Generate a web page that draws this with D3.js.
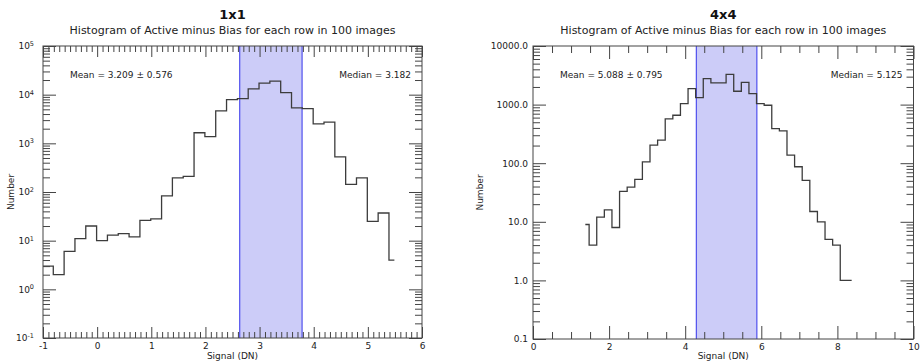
<!DOCTYPE html>
<html>
<head>
<meta charset="utf-8">
<script src="https://cdn.jsdelivr.net/npm/d3@7"></script>
<style>
	body { margin: 0; background: #fff; }
	svg { display: block; font-family: "DejaVu Sans", sans-serif; }
	.axis path { display: none; }
	.axis line { stroke: #444; }
	.axis text { font-size: 9px; fill: #222; font-family: "DejaVu Sans", sans-serif; }
</style>
</head>
<body>
<svg width="921" height="364"></svg>
<script>
// 1x1 panel: bin centres start at -1.11, 0.2 DN wide (first bin sits off the axis)
const binStart1 = -1.11
const binWidth1 = 0.2
const counts1 = [3, 3, 2, 6, 11, 20, 10, 13, 14, 12, 26, 28, 83, 195, 210, 1650, 1370, 4640,
	7900, 8300, 13200, 17300, 19000, 11000, 5350, 5180, 2520, 2720, 526, 143, 195, 25, 37, 4]
const stats1 = { mean: 3.209, sigma: 0.576, median: 3.182 }

// 4x4 panel
const binStart4 = 1.375
const binWidth4 = 0.2
const counts4 = [9, 4, 12, 16, 8, 33, 39, 53, 105, 203, 247, 570, 658, 1040, 1870, 1315, 2775,
	2340, 2340, 3290, 1690, 2400, 1540, 1040, 975, 390, 356, 137, 87, 51, 15, 10, 5, 4, 1, 1]
const stats4 = { mean: 5.088, sigma: 0.795, median: 5.125 }

const xTicks1 = [-1, 0, 1, 2, 3, 4, 5, 6]
const yTicks1 = [0.1, 1, 10, 100, 1000, 10000, 100000]
const xTicks4 = [0, 2, 4, 6, 8, 10]
const yTicks4 = [0.1, 1, 10, 100, 1000, 10000]

const svg = d3.select("svg")

function logMinors(lo, hi) {
	const out = []
	for (let e = lo; e < hi; e++)
		for (let k = 2; k <= 9; k++) out.push(k * Math.pow(10, e))
	return out
}
function linMinors(lo, hi, step, majors) {
	const out = []
	for (let v = lo; v <= hi + 1e-9; v += step) {
		const r = Math.round(v * 100) / 100
		if (!majors.includes(r)) out.push(r)
	}
	return out
}

function drawPanel(p, id) {
	const g = svg.append("g")
	const x = d3.scaleLinear(p.xDomain, [p.left, p.right])
	const y = d3.scaleLog(p.yDomain, [p.bottom, p.top])

	svg.append("defs").append("clipPath").attr("id", "clip" + id)
		.append("rect")
		.attr("x", p.left).attr("y", p.top)
		.attr("width", p.right - p.left).attr("height", p.bottom - p.top)

	// mean +/- sigma band
	const x0 = x(p.stats.mean - p.stats.sigma), x1 = x(p.stats.mean + p.stats.sigma)
	g.append("rect")
		.attr("x", x0).attr("y", p.top)
		.attr("width", x1 - x0).attr("height", p.bottom - p.top)
		.attr("fill", "#ccccf8")
	g.selectAll(".edge").data([x0, x1]).enter().append("line")
		.attr("class", "edge")
		.attr("x1", d => d).attr("x2", d => d)
		.attr("y1", p.top).attr("y2", p.bottom)
		.attr("stroke", "#5050ee").attr("stroke-width", 1.2)

	// histogram, IDL psym=10 style steps
	const pts = p.counts.map((c, i) => [p.binStart + i * p.binWidth, c])
	g.append("path")
		.attr("clip-path", `url(#clip${id})`)
		.attr("d", d3.line().x(d => x(d[0])).y(d => y(d[1])).curve(d3.curveStep)(pts))
		.attr("fill", "none")
		.attr("stroke", "#3c3c3c")
		.attr("stroke-width", 1.3)

	// ticks, all pointing inward
	const xMinor = linMinors(p.xDomain[0], p.xDomain[1], p.xMinorStep, p.xTicks)
	const yMinor = logMinors(Math.round(Math.log10(p.yDomain[0])), Math.round(Math.log10(p.yDomain[1])))

	g.append("g").attr("class", "axis").attr("transform", `translate(0,${p.bottom})`)
		.call(d3.axisBottom(x).tickValues(p.xTicks).tickSize(-p.majorX).tickPadding(4.5).tickFormat(d => String(d)))
	g.append("g").attr("class", "axis").attr("transform", `translate(0,${p.bottom})`)
		.call(d3.axisBottom(x).tickValues(xMinor).tickSize(-p.minorX).tickFormat(""))
	g.append("g").attr("class", "axis").attr("transform", `translate(0,${p.top})`)
		.call(d3.axisTop(x).tickValues(p.xTicks).tickSize(-p.majorX).tickFormat(""))
	g.append("g").attr("class", "axis").attr("transform", `translate(0,${p.top})`)
		.call(d3.axisTop(x).tickValues(xMinor).tickSize(-p.minorX).tickFormat(""))

	const yl = g.append("g").attr("class", "axis").attr("transform", `translate(${p.left},0)`)
		.call(d3.axisLeft(y).tickValues(p.yTicks).tickSize(-p.majorY).tickPadding(p.yPad).tickFormat(p.yFormat))
	if (p.superscript) {
		yl.selectAll(".tick text").each(function (d) {
			d3.select(this).append("tspan")
				.attr("dy", "-0.5em")
				.style("font-size", "6.5px")
				.text(String(Math.round(Math.log10(d))))
		})
	}
	g.append("g").attr("class", "axis").attr("transform", `translate(${p.left},0)`)
		.call(d3.axisLeft(y).tickValues(yMinor).tickSize(-p.minorY).tickFormat(""))
	g.append("g").attr("class", "axis").attr("transform", `translate(${p.right},0)`)
		.call(d3.axisRight(y).tickValues(p.yTicks).tickSize(-p.majorY).tickFormat(""))
	g.append("g").attr("class", "axis").attr("transform", `translate(${p.right},0)`)
		.call(d3.axisRight(y).tickValues(yMinor).tickSize(-p.minorY).tickFormat(""))

	// frame
	g.append("rect")
		.attr("x", p.left).attr("y", p.top)
		.attr("width", p.right - p.left).attr("height", p.bottom - p.top)
		.attr("fill", "none").attr("stroke", "#444").attr("stroke-width", 1)

	// texts
	const cx = (p.left + p.right) / 2
	g.append("text").attr("x", cx).attr("y", 18.5)
		.attr("text-anchor", "middle").style("font-size", "13px").style("font-weight", "bold")
		.attr("fill", "#111").text(p.title)
	g.append("text").attr("x", cx).attr("y", 33.5)
		.attr("text-anchor", "middle").style("font-size", "11px").attr("fill", "#222")
		.text("Histogram of Active minus Bias for each row in 100 images")
	g.append("text").attr("x", p.left + 27).attr("y", 77.5)
		.style("font-size", "9px").attr("fill", "#222")
		.text(`Mean = ${p.stats.mean.toFixed(3)} \u00b1 ${p.stats.sigma.toFixed(3)}`)
	g.append("text").attr("x", p.right - 11).attr("y", 77.5)
		.attr("text-anchor", "end").style("font-size", "9px").attr("fill", "#222")
		.text(`Median = ${p.stats.median.toFixed(3)}`)
	g.append("text").attr("x", cx).attr("y", 358.5)
		.attr("text-anchor", "middle").style("font-size", "9px").attr("fill", "#222")
		.text("Signal (DN)")
	g.append("text")
		.attr("transform", `translate(${p.numberX},${(p.top + p.bottom) / 2}) rotate(-90)`)
		.attr("text-anchor", "middle").style("font-size", "9px").attr("fill", "#222")
		.text("Number")
}

drawPanel({
	title: "1x1",
	left: 43, right: 422, top: 46, bottom: 338, numberX: 14,
	xDomain: [-1, 6], yDomain: [0.1, 1e5],
	xTicks: xTicks1, yTicks: yTicks1, xMinorStep: 0.1,
	majorX: 11, minorX: 6, majorY: 13, minorY: 7,
	yPad: 9, yFormat: () => "10", superscript: true,
	binStart: binStart1, binWidth: binWidth1, counts: counts1, stats: stats1,
}, 1)

drawPanel({
	title: "4x4",
	left: 533, right: 913.5, top: 46, bottom: 339, numberX: 483,
	xDomain: [0, 10], yDomain: [0.1, 1e4],
	xTicks: xTicks4, yTicks: yTicks4, xMinorStep: 0.5,
	majorX: 13, minorX: 7, majorY: 13, minorY: 7,
	yPad: 5, yFormat: d3.format(".1f"), superscript: false,
	binStart: binStart4, binWidth: binWidth4, counts: counts4, stats: stats4,
}, 4)
</script>
</body>
</html>
